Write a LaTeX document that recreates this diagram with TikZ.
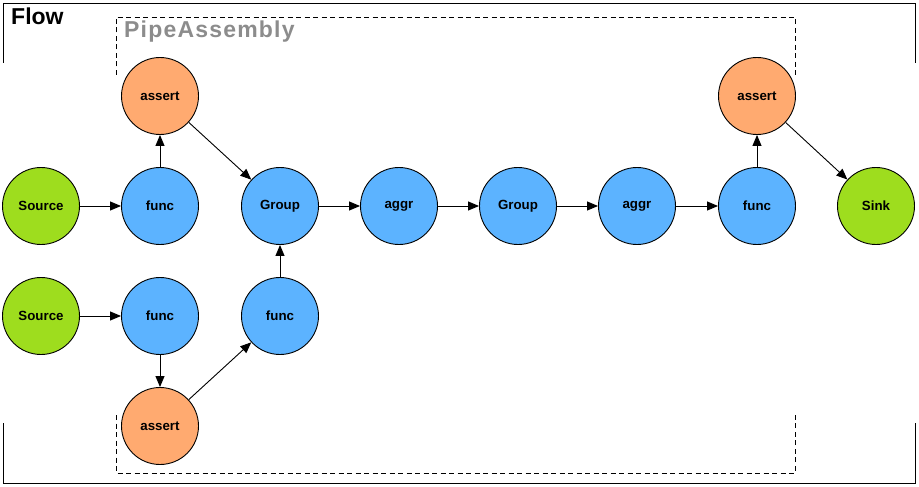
\documentclass[tikz,border=0pt]{standalone}
\usepackage{fontspec}
\setmainfont{Liberation Sans}
\usetikzlibrary{arrows.meta}
\definecolor{cgreen}{HTML}{9EDD1E}
\definecolor{corange}{HTML}{FFAA70}
\definecolor{cblue}{HTML}{5CB3FF}
\definecolor{cgray}{HTML}{8C8C8C}
\newcommand{\ls}{\hspace{1.2pt}}
\tikzset{
  nd/.style={circle,draw=black,line width=0.9pt,minimum size=77pt,inner sep=0pt,font=\fontsize{13.3}{15}\selectfont\bfseries},
  src/.style={nd,fill=cgreen},
  op/.style={nd,fill=cblue},
  chk/.style={nd,fill=corange},
  conn/.style={-{Triangle[length=11pt,width=9pt]},line width=0.9pt,black},
  frame/.style={line width=0.9pt,black},
  dframe/.style={line width=0.9pt,black,dash pattern=on 5pt off 3.5pt}
}
\begin{document}
\begin{tikzpicture}[x=1pt,y=-1pt]
\useasboundingbox (0,0) rectangle (919,487);
% outer frame
\draw[frame] (3,63) -- (3,3) -- (915,3) -- (915,63);
\draw[frame] (3,423) -- (3,483) -- (915,483) -- (915,423);
% dashed frame
\draw[dframe] (116,75) -- (116,17) -- (795,17) -- (795,75);
\draw[dframe] (116,415) -- (116,473) -- (795,473) -- (795,415);
\node[anchor=north west,inner sep=0pt,font=\fontsize{23}{25}\selectfont\bfseries] (flow) at (11,8) {Flow};
\node[anchor=north west,inner sep=0pt,text=cgray,font=\fontsize{23}{25}\selectfont\bfseries] (pa) at (124,21) {P\ls i\ls p\ls e\ls A\ls s\ls s\ls e\ls m\ls b\ls l\ls y};
% nodes
\node[src] (s1) at (41,206) {Source};
\node[op] (f1) at (160,206) {func};
\node[chk] (a1) at (160,96) {assert};
\node[op] (g1) at (280,206) {Group};
\node[op] (ag1) at (399,206) {aggr};
\node[op] (g2) at (518,206) {Group};
\node[op] (ag2) at (637,206) {aggr};
\node[op] (f3) at (757,206) {func};
\node[chk] (a3) at (757,96) {assert};
\node[src] (sk) at (876,206) {Sink};
\node[src] (s2) at (41,316) {Source};
\node[op] (f2) at (160,316) {func};
\node[op] (f4) at (280,316) {func};
\node[chk] (a2) at (160,426) {assert};
% connectors
\draw[conn] (s1) -- (f1);
\draw[conn] (f1) -- (a1);
\draw[conn] (a1) -- (g1);
\draw[conn] (g1) -- (ag1);
\draw[conn] (ag1) -- (g2);
\draw[conn] (g2) -- (ag2);
\draw[conn] (ag2) -- (f3);
\draw[conn] (f3) -- (a3);
\draw[conn] (a3) -- (sk);
\draw[conn] (s2) -- (f2);
\draw[conn] (f2) -- (a2);
\draw[conn] (a2) -- (f4);
\draw[conn] (f4) -- (g1);
\end{tikzpicture}
\end{document}
